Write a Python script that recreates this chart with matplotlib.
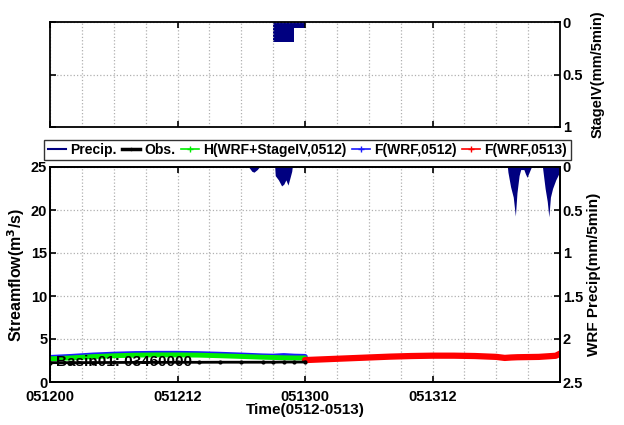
import numpy as np
import matplotlib
matplotlib.use("Agg")
import matplotlib.pyplot as plt
from matplotlib.lines import Line2D
from matplotlib.ticker import MultipleLocator

plt.rcParams['font.family'] = ['Liberation Sans', 'DejaVu Sans']
plt.rcParams['font.weight'] = 'bold'
plt.rcParams['axes.labelweight'] = 'bold'

NAVY = '#000080'

# ---- data (hours since 0512 00Z) ----
xtick_pos = [0, 12, 24, 36]
xtick_labels = ['051200', '051212', '051300', '051312']

# StageIV precip (mm/5min), hourly stairs
stage_edges = [21, 22, 23, 24]
stage_vals = [0.19, 0.19, 0.06]

# WRF precip (mm/5min)
wrf_t = [18.7, 19.0, 19.2, 19.5, 19.7,
         21.15, 21.2, 21.5, 21.8, 22.0, 22.2, 22.4, 22.6, 22.75, 22.8,
         43.05, 43.1, 43.35, 43.6, 43.8, 43.95, 44.15, 44.3, 44.6, 44.75, 44.9, 45.1, 45.3,
         46.35, 46.4, 46.6, 46.8, 46.95, 47.1, 47.3, 47.6, 47.8, 48.0]
wrf_p = [0.0, 0.05, 0.06, 0.03, 0.0,
         0.0, 0.1, 0.15, 0.22, 0.2, 0.15, 0.21, 0.12, 0.05, 0.0,
         0.0, 0.06, 0.23, 0.35, 0.57, 0.3, 0.1, 0.03, 0.03, 0.08, 0.12, 0.06, 0.0,
         0.0, 0.05, 0.25, 0.4, 0.58, 0.35, 0.25, 0.15, 0.1, 0.05]

# Streamflow (m3/s)
hours_0512 = [0, 2, 4, 6, 8, 10, 12, 14, 16, 18, 20, 21, 22, 23, 24]
obs = [2.25, 2.25, 2.26, 2.27, 2.28, 2.28, 2.29, 2.29, 2.3, 2.3, 2.3, 2.3, 2.32, 2.32, 2.32]
hind = [2.7, 2.8, 2.95, 3.05, 3.12, 3.15, 3.15, 3.12, 3.05, 2.97, 2.88, 2.85, 2.82, 2.8, 2.8]
fc0512 = [2.82, 2.94, 3.1, 3.2, 3.27, 3.3, 3.3, 3.26, 3.19, 3.1, 3.0, 2.97, 3.04, 2.97, 2.94]
hours_0513 = [24, 26, 28, 30, 32, 34, 36, 38, 40, 42, 42.8, 43.4, 44, 45, 46, 47, 47.6, 48]
fc0513 = [2.55, 2.65, 2.75, 2.85, 2.95, 3.02, 3.06, 3.06, 3.02, 2.92, 2.8, 2.85, 2.88, 2.9, 2.92, 3.0, 3.05, 3.3]

basin_label = 'Basin01: 03460000'

# ---- figure ----
fig = plt.figure(figsize=(6.24, 4.25), dpi=100)
L, W = 50 / 624, 510 / 624
ax_top = fig.add_axes([L, 1 - 127 / 425, W, 105 / 425])
ax = fig.add_axes([L, 1 - 382 / 425, W, 215 / 425])

TS = 10.5

def style(a):
    for s in a.spines.values():
        s.set_linewidth(1.3)
    a.tick_params(direction='in', length=4, width=1.2, labelsize=TS)
    a.tick_params(which='minor', length=0)
    for t in a.get_xticklabels() + a.get_yticklabels():
        t.set_fontweight('bold')

grid_kw = dict(color='#b0b0b0', linestyle=':', linewidth=0.9)

# top StageIV
ax_top.stairs(stage_vals, stage_edges, fill=True, color=NAVY, baseline=0)
ax_top.set_xlim(0, 48)
ax_top.set_ylim(1, 0)
ax_top.set_xticks(xtick_pos)
ax_top.set_xticklabels([])
ax_top.xaxis.set_minor_locator(MultipleLocator(3))
ax_top.set_yticks([0, 0.5, 1])
ax_top.set_yticklabels(['0', '0.5', '1'])
ax_top.yaxis.tick_right()
ax_top.yaxis.set_label_position('right')
ax_top.tick_params(left=True, right=True, top=True, bottom=True, pad=2)
ax_top.grid(which='both', axis='x', **grid_kw)
ax_top.grid(which='major', axis='y', **grid_kw)
ax_top.set_ylabel('StageIV(mm/5min)', fontsize=10.5, labelpad=5)
style(ax_top)

# bottom streamflow
ax.set_xlim(0, 48)
ax.set_ylim(0, 25)
ax.set_xticks(xtick_pos)
ax.set_xticklabels(xtick_labels)
ax.xaxis.set_minor_locator(MultipleLocator(3))
ax.set_yticks([0, 5, 10, 15, 20, 25])
ax.grid(which='both', axis='x', **grid_kw)
ax.grid(which='major', axis='y', **grid_kw)
ax.tick_params(top=True, bottom=True, left=True, right=False)
ax.tick_params(axis='x', pad=6)
ax.tick_params(axis='y', pad=2)
ax.set_ylabel('Streamflow(m$^{\\bf 3}$/s)', fontsize=11.5, labelpad=3)
ax.set_xlabel('Time(0512-0513)', fontsize=11, labelpad=-1)
style(ax)

ax.plot(hours_0512, fc0512, color='#1a1aff', lw=4, zorder=2, solid_capstyle='round')
ax.plot(hours_0512, hind, color='#00ee00', lw=3.5, zorder=3, solid_capstyle='round')
ax.plot(hours_0512, obs, color='black', lw=2, marker='.', ms=4, zorder=4)
ax.plot(hours_0513, fc0513, color='#ff0000', lw=4.5, zorder=3, solid_capstyle='round')
ax.text(0.6, 2.3, basin_label, fontsize=11, fontweight='bold', va='center', ha='left', zorder=5)

ax2 = ax.twinx()
ax2.fill_between(wrf_t, 0, wrf_p, color=NAVY, lw=0)
ax2.set_ylim(2.5, 0)
ax2.set_yticks([0, 0.5, 1, 1.5, 2, 2.5])
ax2.set_yticklabels(['0', '0.5', '1', '1.5', '2', '2.5'])
ax2.tick_params(axis='y', pad=2)
ax2.set_ylabel('WRF Precip(mm/5min)', fontsize=11, labelpad=3)
style(ax2)

handles = [Line2D([], [], color=NAVY, lw=1.5),
           Line2D([], [], color='black', lw=2.5, marker='.', ms=3),
           Line2D([], [], color='#00ee00', lw=1.2, marker='+', ms=5),
           Line2D([], [], color='#1a1aff', lw=1.2, marker='+', ms=5),
           Line2D([], [], color='#ff0000', lw=1.2, marker='+', ms=5)]
labels = ['Precip.', 'Obs.', 'H(WRF+StageIV,0512)', 'F(WRF,0512)', 'F(WRF,0513)']
leg = fig.legend(handles, labels, loc='center', bbox_to_anchor=(307.5 / 624, 1 - 150 / 425),
                 ncol=5, fontsize=10, frameon=True, fancybox=False, edgecolor='black',
                 handlelength=1.3, handletextpad=0.3, columnspacing=0.4, borderpad=0.25,
                 borderaxespad=0)
leg.get_frame().set_linewidth(1.0)
for t in leg.get_texts():
    t.set_fontweight('bold')

fig.savefig('out.png', dpi=100)
